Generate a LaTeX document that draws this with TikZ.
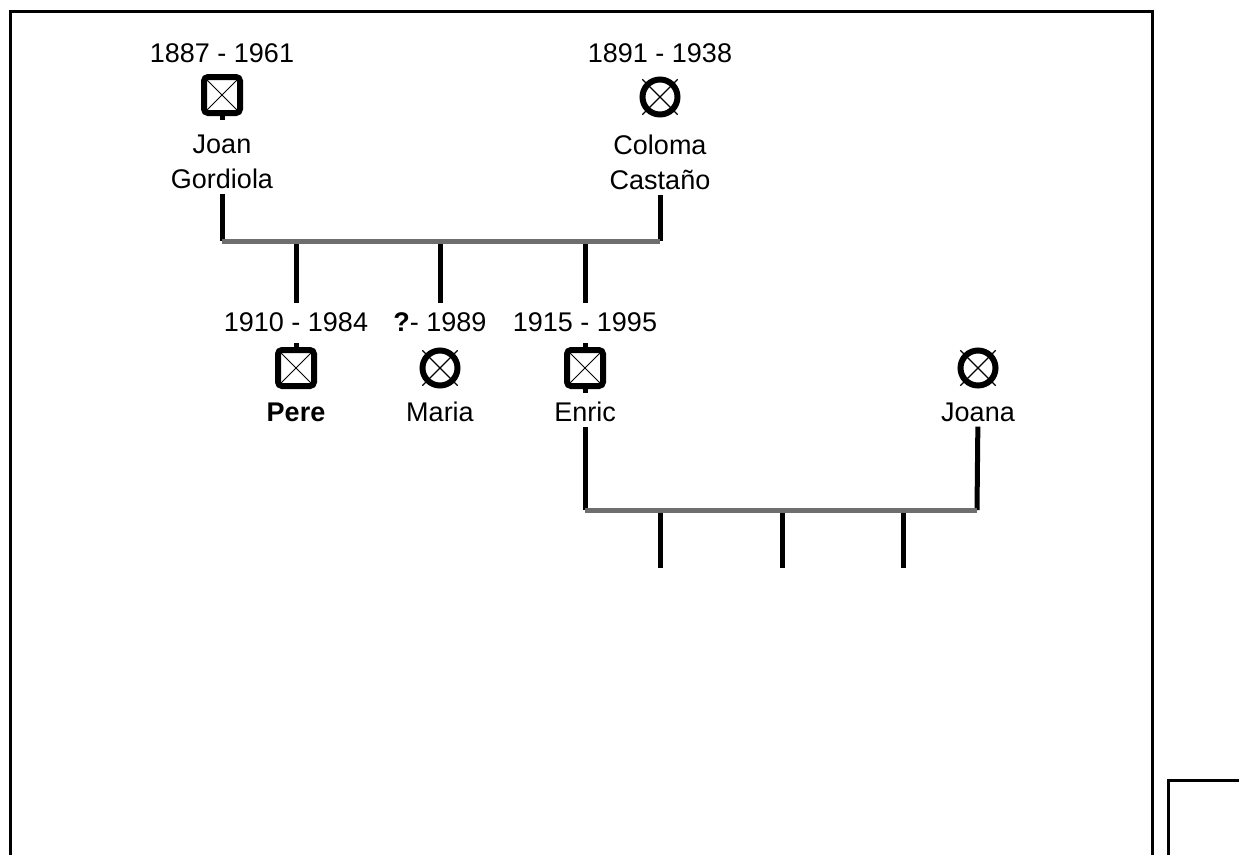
\documentclass[tikz,border=0pt]{standalone}
\usepackage{fontspec}
\setmainfont{Liberation Sans}
\definecolor{bargray}{RGB}{110,110,110}

\begin{document}
\begin{tikzpicture}[x=1pt, y=-1pt,
    male/.style = {draw, rectangle, line width=6pt, rounded corners=4pt, minimum size=36pt,
        path picture={\draw[line width=1pt] (path picture bounding box.north west) -- (path picture bounding box.south east)
            (path picture bounding box.north east) -- (path picture bounding box.south west);}},
    female/.style = {draw, circle, line width=6pt, minimum size=35pt},
    txt/.style = {font=\fontsize{27}{35}\selectfont, align=center, inner sep=1pt},
    vline/.style = {line width=5pt},
    hline/.style = {line width=5pt, bargray},
    frame/.style = {line width=3pt},
    node distance=42pt]

    \useasboundingbox (0,0) rectangle (1239,854);

    % first generation
    \node[male] (joan) at (222,95) {};
    \node[female] (coloma) at (660,97) {};
    \node[txt] (joanyr) [above of= joan]{1887 - 1961};
    \node[txt] (colomayr) [above of= coloma, node distance=44pt]{1891 - 1938};
    \node[txt] (joanname) [below of= joan, node distance=67pt]{Joan\\Gordiola};
    \node[txt] (colomaname) [below of= coloma, node distance=65pt]{Coloma\\Castaño};

    % children
    \node[male] (pere) at (296,368) {};
    \node[female] (maria) at (440,368) {};
    \node[male] (enric) at (585,368) {};
    \node[female] (joana) at (978,368) {};
    \node[txt] (pereyr) [above of= pere, node distance=46pt]{1910 - 1984};
    \node[txt] (mariayr) [above of= maria, node distance=46pt]{\textbf{?}- 1989};
    \node[txt] (enricyr) [above of= enric, node distance=46pt]{1915 - 1995};
    \node[txt] (perename) [below of= pere, node distance=44pt]{\textbf{Pere}};
    \node[txt] (marianame) [below of= maria, node distance=44pt]{Maria};
    \node[txt] (enricname) [below of= enric, node distance=44pt]{Enric};
    \node[txt] (joananame) [below of= joana, node distance=44pt]{Joana};

    % marriage lines
    \coordinate (m1l) at (222,241);
    \coordinate (m1r) at (660,241);
    \coordinate (m2l) at (585,510);
    \coordinate (m2r) at (977,510);
    \coordinate (c1) at (660,568);
    \coordinate (c2) at (782,568);
    \coordinate (c3) at (903,568);

    \foreach \p in {coloma, maria, joana}
        \draw[line width=1.2pt] (\p.center) +(45:25pt) -- +(225:25pt) +(135:25pt) -- +(-45:25pt);

    \draw[vline] (joan.south) -- ++(0,4);
    \draw[vline] (pere.north) -- ++(0,-4);
    \draw[vline] (enric.north) -- ++(0,-4);
    \draw[vline] (enric.south) -- ++(0,4);

    \draw[vline, shorten <=4pt] (joanname) -- (m1l);
    \draw[vline, shorten <=4pt] (colomaname) -- (m1r);
    \draw[vline, shorten >=8pt] (pere |- m1l) -- (pereyr);
    \draw[vline, shorten >=8pt] (maria |- m1l) -- (mariayr);
    \draw[vline, shorten >=8pt] (enric |- m1l) -- (enricyr);
    \draw[hline] (m1l) -- (m1r);

    \draw[vline, shorten <=4pt] (enricname) -- (m2l);
    \draw[vline, shorten <=4pt] (joananame) -- (m2r);
    \draw[vline] (c1 |- m2l) -- (c1);
    \draw[vline] (c2 |- m2l) -- (c2);
    \draw[vline] (c3 |- m2l) -- (c3);
    \draw[hline] (m2l) -- (m2r);

    % frames
    \draw[frame] (10,860) -- (10,11) -- (1152,11) -- (1152,860);
    \draw[frame] (1168,860) -- (1168,780) -- (1245,780);
\end{tikzpicture}
\end{document}
